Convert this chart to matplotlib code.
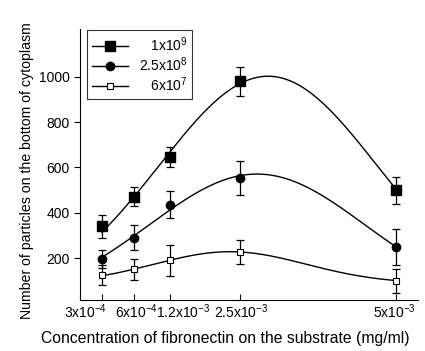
import numpy as np
import matplotlib
matplotlib.use('Agg')
import matplotlib.pyplot as plt

plt.rcParams['font.family'] = ['Liberation Sans', 'DejaVu Sans']
plt.rcParams['mathtext.fontset'] = 'custom'
plt.rcParams['mathtext.rm'] = 'Liberation Sans'

# concentration labels (mg/ml)
conc_labels = ['3x10$^{-4}$', '6x10$^{-4}$', '1.2x10$^{-3}$', '2.5x10$^{-3}$', '5x10$^{-3}$']
series_labels = ['   1x10$^{9}$', '2.5x10$^{8}$', '   6x10$^{7}$']

# particles counts and error bars
s1 = [340, 470, 645, 980, 500]
s1_err = [50, 42, 45, 65, 60]
s2 = [195, 290, 435, 555, 250]
s2_err = [40, 55, 60, 75, 78]
s3 = [125, 150, 190, 228, 100]
s3_err = [45, 45, 70, 52, 52]

# x positions of categories on the axis (non-uniform spacing as in the figure)
x_pos = np.array([102, 134, 170, 240, 396], dtype=float)
# where the tick labels are centred (they are shifted in the original)
label_pos = [86, 137, 183, 241, 394]


def gauss_fit(x, y, baseline=True):
    # grid search for a gaussian (optionally with a constant baseline)
    y = np.asarray(y, dtype=float)
    best = None
    for mu in np.linspace(150, 350, 201):
        for s in np.linspace(40, 250, 211):
            g = np.exp(-(x - mu) ** 2 / (2 * s ** 2))
            if baseline:
                M = np.vstack([np.ones_like(g), g]).T
            else:
                M = np.vstack([np.zeros_like(g), g]).T
            coef = np.linalg.lstsq(M, y, rcond=None)[0]
            err = np.sum((M @ coef - y) ** 2)
            if best is None or err < best[0]:
                best = (err, mu, s, coef)
    _, mu, s, coef = best
    return lambda t: coef[0] + coef[1] * np.exp(-(t - mu) ** 2 / (2 * s ** 2))


fig = plt.figure(figsize=(4.25, 3.51), dpi=100)
ax = fig.add_axes([0.188, 0.145, 0.796, 0.772])

xs = np.linspace(x_pos[0], x_pos[-1], 300)
styles = [
    dict(marker='s', ms=7, mfc='black', mec='black'),
    dict(marker='o', ms=6, mfc='black', mec='black'),
    dict(marker='s', ms=4.5, mfc='white', mec='black', mew=0.8),
]
baselines = [False, False, True]
for ys, errs, lab, st, bl in zip([s1, s2, s3], [s1_err, s2_err, s3_err], series_labels, styles, baselines):
    f = gauss_fit(x_pos, ys, bl)
    ax.plot(xs, f(xs), color='black', lw=1.0, zorder=2)
    ax.errorbar(x_pos, ys, yerr=errs, fmt='none', ecolor='black', elinewidth=0.9,
                capsize=3, capthick=0.9, zorder=3)
    ax.plot(x_pos, ys, linestyle='none', color='black', zorder=4, **st)
    # legend handle
    ax.plot([], [], color='black', lw=1.0, label=lab, **st)

ax.set_xlim(80, 418)
ax.set_ylim(15, 1210)
ax.set_xticks(x_pos)
ax.set_xticklabels([])
for lp, lab in zip(label_pos, conc_labels):
    ax.annotate(lab, xy=(lp, 0), xycoords=('data', 'axes fraction'),
                xytext=(0, -2), textcoords='offset points',
                ha='center', va='top', fontsize=10)
ax.set_yticks([200, 400, 600, 800, 1000])
ax.tick_params(axis='y', labelsize=10, direction='out', length=4)
ax.tick_params(axis='x', direction='in', length=4)
ax.spines['top'].set_visible(False)
ax.spines['right'].set_visible(False)

ax.set_xlabel('Concentration of fibronectin on the substrate (mg/ml)', fontsize=11.3)
ax.xaxis.set_label_coords(0.43, -0.115)
ax.set_ylabel('Number of particles on the bottom of cytoplasm', fontsize=10.2)
ax.yaxis.set_label_coords(-0.135, 0.476)

leg = ax.legend(loc='upper left', bbox_to_anchor=(0.02, 0.995), borderaxespad=0,
                fontsize=10, frameon=True, fancybox=False, edgecolor='black',
                handlelength=2.6, borderpad=0.35, labelspacing=0.1, handletextpad=0.8)
leg.get_frame().set_linewidth(0.8)

fig.savefig('out.png', dpi=100)
